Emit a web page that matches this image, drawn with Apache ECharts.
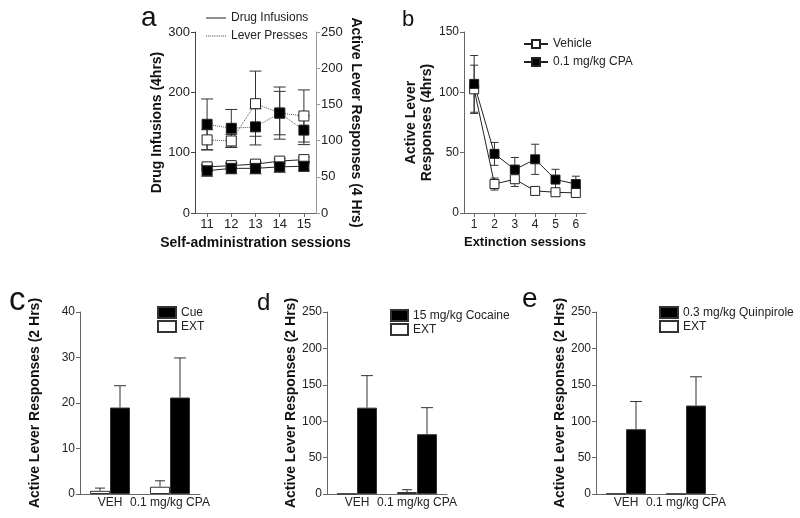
<!DOCTYPE html>
<html>
<head>
<meta charset="utf-8">
<script src="https://cdn.jsdelivr.net/npm/echarts@6/dist/echarts.min.js"></script>
<style>
html,body{margin:0;padding:0;background:#fff;}
#chart{width:800px;height:518px;}
</style>
</head>
<body>
<div id="chart"></div>
<script>
// ---- Panel a ----
const aSessions = ['11', '12', '13', '14', '15'];
const infOpen = [76.5, 78.5, 81, 86, 88.5];
const infOpenErr = [4, 4, 4, 4, 4];
const infFilled = [70, 74, 74, 76.5, 77.5];
const infFilledErr = [9, 9, 9, 9, 8];
const pressOpen = [101, 99.5, 151, 138, 134];
const pressOpenErr = [14, 9, 45, 30, 36];
const pressFilled = [122.5, 117, 119, 138, 114.5];
const pressFilledErr = [35, 26, 25, 36, 20];
// ---- Panel b ----
const extSessions = ['1', '2', '3', '4', '5', '6'];
const vehicle = [102.5, 24, 28, 18.3, 17.2, 16.6];
const vehicleErr = [20, 5, 6, 3, 3, 2];
const cpa = [107, 49, 36, 44.5, 27.7, 24];
const cpaErr = [23.5, 9.5, 10, 12.5, 8.5, 6.5];
// ---- Panels c, d, e ----
const groups = ['VEH', '0.1 mg/kg CPA'];
const cueExt = [0.7, 1.6];
const cueExtErr = [0.6, 1.3];
const cue = [19, 21.2];
const cueErr = [4.8, 8.7];
const cocExt = [0.3, 2.7];
const cocExtErr = [0, 3.2];
const cocaine = [118.6, 82.2];
const cocaineErr = [44, 36.4];
const quinExt = [0.5, 0.3];
const quinExtErr = [0, 0];
const quin = [89, 121.5];
const quinErr = [38, 39.5];

const FONT = "'Liberation Sans', Arial, sans-serif";
const AX = '#666';

function errRender(capHalf, upOnly, offsetFrac) {
  return function (params, api) {
    const xi = api.value(0), m = api.value(1), e = api.value(2);
    if (!(e > 0)) return null;
    const base = api.coord([xi, m]);
    const top = api.coord([xi, m + e]);
    const bot = upOnly ? base : api.coord([xi, m - e]);
    const off = offsetFrac ? api.size([1, 0])[0] * offsetFrac : 0;
    const x = base[0] + off;
    const style = { stroke: '#333', lineWidth: 1 };
    const ch = [
      { type: 'line', shape: { x1: x, y1: top[1], x2: x, y2: bot[1] }, style: style },
      { type: 'line', shape: { x1: x - capHalf, y1: top[1], x2: x + capHalf, y2: top[1] }, style: style }
    ];
    if (!upOnly) ch.push({ type: 'line', shape: { x1: x - capHalf, y1: bot[1], x2: x + capHalf, y2: bot[1] }, style: style });
    return { type: 'group', children: ch };
  };
}
function errData(vals, errs) { return vals.map((v, i) => [i, v, errs[i]]); }
function errSeries(xi, yi, vals, errs, cap, upOnly, off) {
  return { type: 'custom', xAxisIndex: xi, yAxisIndex: yi, renderItem: errRender(cap, upOnly, off),
    data: errData(vals, errs), z: 1, silent: true, encode: { x: 0, y: 1 } };
}

function catAxis(gi, data, opts) {
  return Object.assign({
    type: 'category', gridIndex: gi, data: data, boundaryGap: true,
    axisLine: { lineStyle: { color: AX, width: 1 } },
    axisTick: { show: true, alignWithLabel: true, length: 4, lineStyle: { color: AX } },
    axisLabel: { color: '#222', fontSize: 13, fontFamily: FONT, margin: 5, interval: 0 },
    splitLine: { show: false },
    nameLocation: 'middle',
    nameTextStyle: { color: '#111', fontSize: 14, fontWeight: 'bold', fontFamily: FONT }
  }, opts || {});
}
function valAxis(gi, min, max, interval, opts) {
  return Object.assign({
    type: 'value', gridIndex: gi, min: min, max: max, interval: interval,
    axisLine: { show: true, lineStyle: { color: AX, width: 1 } },
    axisTick: { show: true, length: 4, lineStyle: { color: AX } },
    axisLabel: { color: '#222', fontSize: 13, fontFamily: FONT, margin: 5 },
    splitLine: { show: false },
    nameLocation: 'middle',
    nameTextStyle: { color: '#111', fontSize: 14, fontWeight: 'bold', fontFamily: FONT }
  }, opts || {});
}

const gridBase = { containLabel: false, outerBoundsMode: 'none', show: false };
const grids = [
  Object.assign({ left: 195, top: 32, width: 121, height: 181 }, gridBase),
  Object.assign({ left: 464, top: 32, width: 122, height: 181 }, gridBase),
  Object.assign({ left: 80, top: 312, width: 120, height: 182 }, gridBase),
  Object.assign({ left: 327, top: 312, width: 120, height: 182 }, gridBase),
  Object.assign({ left: 596, top: 312, width: 120, height: 182 }, gridBase)
];

const barLabel = { color: '#222', fontSize: 12, fontFamily: FONT, margin: 3, interval: 0 };
const xAxes = [
  catAxis(0, aSessions, { name: 'Self-administration sessions', nameGap: 23 }),
  catAxis(1, extSessions, { name: 'Extinction sessions', nameGap: 23,
    axisLabel: { color: '#222', fontSize: 12, fontFamily: FONT, margin: 6, interval: 0 },
    nameTextStyle: { color: '#111', fontSize: 13, fontWeight: 'bold', fontFamily: FONT } }),
  catAxis(2, groups, { axisTick: { show: false }, axisLabel: barLabel }),
  catAxis(3, groups, { axisTick: { show: false }, axisLabel: barLabel }),
  catAxis(4, groups, { axisTick: { show: false }, axisLabel: barLabel })
];
const yTitle2h = 'Active Lever Responses (2 Hrs)';
const smallLbl = { color: '#222', fontSize: 12, fontFamily: FONT, margin: 5 };
const yAxes = [
  valAxis(0, 0, 300, 100, { name: 'Drug Infusions (4hrs)', nameGap: 30, axisLine: { show: true, lineStyle: { color: '#444' } }, axisTick: { show: true, length: 4, lineStyle: { color: '#444' } } }),
  valAxis(0, 0, 250, 50, { position: 'right', name: 'Active Lever Responses (4 Hrs)', nameGap: 33, nameRotate: -90,
    axisLine: { show: true, lineStyle: { color: '#999' } }, axisTick: { show: true, length: 4, lineStyle: { color: '#999' } } }),
  valAxis(1, 0, 150, 50, { name: 'Active Lever\nResponses (4hrs)', nameGap: 26, axisLabel: smallLbl,
    nameTextStyle: { color: '#111', fontSize: 14, fontWeight: 'bold', fontFamily: FONT, lineHeight: 16 } }),
  valAxis(2, 0, 40, 10, { name: yTitle2h, nameGap: 38, axisLabel: smallLbl }),
  valAxis(3, 0, 250, 50, { name: yTitle2h, nameGap: 29, axisLabel: smallLbl }),
  valAxis(4, 0, 250, 50, { name: yTitle2h, nameGap: 29, axisLabel: smallLbl })
];

function lineSeries(name, xi, yi, data, filled, dotted, size) {
  return { type: 'line', name: name, xAxisIndex: xi, yAxisIndex: yi, data: data,
    symbol: 'rect', symbolSize: size, showAllSymbol: true, z: 3,
    itemStyle: { color: filled ? '#000' : '#fff', borderColor: '#222', borderWidth: 1 },
    lineStyle: { color: dotted ? '#555' : '#222', width: 1, type: dotted ? 'dotted' : 'solid' } };
}
function barSeries(name, xi, yi, data, filled) {
  return { type: 'bar', name: name, xAxisIndex: xi, yAxisIndex: yi, data: data,
    barWidth: 20, barGap: '0%', z: 2,
    itemStyle: { color: filled ? '#000' : '#fff', borderColor: '#333', borderWidth: 1 } };
}

const series = [
  // a
  errSeries(0, 0, infOpen, infOpenErr, 6, false, 0),
  errSeries(0, 0, infFilled, infFilledErr, 6, false, 0),
  errSeries(0, 1, pressOpen, pressOpenErr, 6, false, 0),
  errSeries(0, 1, pressFilled, pressFilledErr, 6, false, 0),
  lineSeries('infOpen', 0, 0, infOpen, false, false, 10),
  lineSeries('infFilled', 0, 0, infFilled, true, false, 10),
  lineSeries('pressOpen', 0, 1, pressOpen, false, true, 10),
  lineSeries('pressFilled', 0, 1, pressFilled, true, true, 10),
  { type: 'line', name: 'Drug Infusions', xAxisIndex: 0, yAxisIndex: 0, data: [], symbol: 'none',
    lineStyle: { color: '#222', width: 1 }, itemStyle: { color: '#222' } },
  { type: 'line', name: 'Lever Presses', xAxisIndex: 0, yAxisIndex: 0, data: [], symbol: 'none',
    lineStyle: { color: '#555', width: 1, type: 'dotted' }, itemStyle: { color: '#555' } },
  // b
  errSeries(1, 2, vehicle, vehicleErr, 4, false, 0),
  errSeries(1, 2, cpa, cpaErr, 4, false, 0),
  lineSeries('Vehicle', 1, 2, vehicle, false, false, 9),
  lineSeries('0.1 mg/kg CPA', 1, 2, cpa, true, false, 9),
  // c
  barSeries('EXT', 2, 3, cueExt, false),
  barSeries('Cue', 2, 3, cue, true),
  errSeries(2, 3, cueExt, cueExtErr, 5, true, -1 / 6),
  errSeries(2, 3, cue, cueErr, 6, true, 1 / 6),
  // d
  barSeries('EXT', 3, 4, cocExt, false),
  barSeries('15 mg/kg Cocaine', 3, 4, cocaine, true),
  errSeries(3, 4, cocExt, cocExtErr, 5, true, -1 / 6),
  errSeries(3, 4, cocaine, cocaineErr, 6, true, 1 / 6),
  // e
  barSeries('EXT', 4, 5, quinExt, false),
  barSeries('0.3 mg/kg Quinpirole', 4, 5, quin, true),
  errSeries(4, 5, quinExt, quinExtErr, 5, true, -1 / 6),
  errSeries(4, 5, quin, quinErr, 6, true, 1 / 6)
];
series.forEach(s => { if (s.type === 'custom') s.z = 5; });
series.forEach(s => { if (s.type === 'custom' && s.xAxisIndex <= 1) s.z = 1; });

function legend(left, top, data, w, h, gap, icon) {
  const l = { left: left, top: top, orient: 'vertical', data: data, itemWidth: w, itemHeight: h, itemGap: gap,
    selectedMode: false, padding: 0,
    textStyle: { color: '#222', fontSize: 12, fontFamily: FONT } };
  if (icon) l.icon = icon;
  return l;
}

let dots = '';
for (let i = 0; i < 20; i += 2) dots += 'M' + i + ' 0h1v1H' + i + 'z';
const solidIcon = 'path://M0 0h20v1H0z';
const dottedIcon = 'path://' + dots;

const letters = [
  { t: 'a', x: 141, y: 4, s: 28 },
  { t: 'b', x: 402, y: 9, s: 22 },
  { t: 'c', x: 9, y: 284, s: 33 },
  { t: 'd', x: 257, y: 291, s: 24 },
  { t: 'e', x: 522, y: 285, s: 28 }
];

const option = {
  animation: false,
  backgroundColor: '#fff',
  grid: grids,
  xAxis: xAxes,
  yAxis: yAxes,
  legend: [
    legend(206, 12, [
      { name: 'Drug Infusions', icon: solidIcon, itemStyle: { color: '#222' } },
      { name: 'Lever Presses', icon: dottedIcon, itemStyle: { color: '#444' } }
    ], 20, 10, 6),
    legend(523, 38, ['Vehicle', '0.1 mg/kg CPA'], 24, 10, 6),
    legend(157, 306, ['Cue', 'EXT'], 18, 11, 1, 'rect'),
    legend(390, 309, ['15 mg/kg Cocaine', 'EXT'], 17, 11, 1, 'rect'),
    legend(659, 306, ['0.3 mg/kg Quinpirole', 'EXT'], 18, 11, 1, 'rect')
  ],
  graphic: letters.map(l => ({ type: 'text', left: l.x, top: l.y, silent: true,
    style: { text: l.t, fontSize: l.s, fontFamily: FONT, fill: '#111' } })),
  series: series
};

const chart = echarts.init(document.getElementById('chart'), null, { renderer: 'canvas' });
chart.setOption(option);
</script>
</body>
</html>
